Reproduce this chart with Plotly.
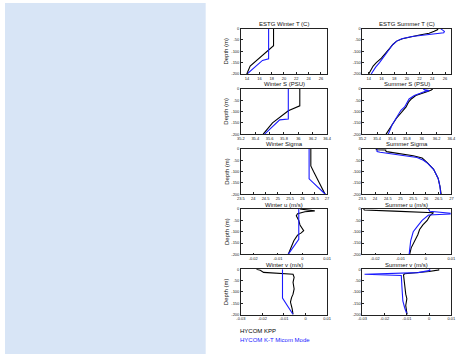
import plotly.graph_objects as go

# ---------------- data ----------------
# Row 1: temperature (C)
wT_depth_kpp = [0, -75, -165, -200]
wT_kpp = [18.3, 18.3, 14.5, 13.95]
wT_depth_mic = [0, -133, -140, -200]
wT_mic = [17.5, 17.5, 16.5, 14.0]

sT_depth_kpp = [0, -5, -12, -20, -28, -35, -45, -55, -70, -90, -110, -130, -150, -165, -180, -200]
sT_kpp = [24.9, 24.8, 24.3, 23.5, 22.0, 20.8, 19.3, 18.4, 17.8, 17.2, 16.6, 16.0, 15.2, 14.7, 14.4, 14.0]
sT_depth_mic = [0, -5, -12, -18, -22, -28, -35, -45, -55, -70, -90, -110, -130, -150, -170, -200]
sT_mic = [25.3, 25.6, 25.9, 25.8, 24.5, 22.3, 20.8, 19.2, 18.4, 17.8, 17.3, 16.8, 16.2, 15.7, 15.1, 14.4]

# Row 2: salinity (PSU)
wS_depth_kpp = [0, -75, -97, -150, -200]
wS_kpp = [36.02, 36.02, 35.86, 35.64, 35.51]
wS_depth_mic = [0, -133, -137, -200]
wS_mic = [35.86, 35.86, 35.74, 35.53]

sS_depth_kpp = [0, -5, -12, -20, -30, -45, -60, -80, -95, -110, -130, -160, -200]
sS_kpp = [36.15, 36.13, 36.08, 36.0, 35.92, 35.86, 35.82, 35.79, 35.75, 35.70, 35.66, 35.60, 35.52]
sS_depth_mic = [0, -5, -8, -12, -20, -30, -45, -60, -80, -95, -110, -130, -160, -200]
sS_mic = [36.02, 36.04, 36.10, 36.04, 35.98, 35.90, 35.83, 35.80, 35.77, 35.72, 35.69, 35.65, 35.60, 35.55]

# Row 3: sigma
wSig_depth_kpp = [0, -75, -100, -150, -200]
wSig_kpp = [26.34, 26.34, 26.45, 26.70, 26.92]
wSig_depth_mic = [0, -132, -200]
wSig_mic = [26.27, 26.27, 26.93]

sSig_depth_kpp = [0, -3, -5, -8, -12, -20, -30, -40, -60, -90, -130, -165, -200]
sSig_kpp = [24.05, 24.05, 24.42, 24.42, 24.45, 24.9, 25.5, 25.85, 26.05, 26.3, 26.48, 26.55, 26.6]
sSig_depth_mic = [0, -12, -15, -25, -38, -50, -65, -90, -130, -165, -200]
sSig_mic = [24.08, 24.08, 24.2, 24.9, 25.65, 25.9, 26.08, 26.3, 26.48, 26.55, 26.58]

# Row 4: u (m/s)
wU_depth_kpp = [0, -4, -8, -12, -20, -30, -50, -70, -85, -95, -105, -115, -140, -170, -200]
wU_kpp = [-0.001, 0.002, 0.005, 0.001, -0.002, -0.0025, -0.0015, -0.001, 0.0, 0.0005, -0.0005, -0.002, -0.0035, -0.0048, -0.0058]
wU_depth_mic = [0, -133, -200]
wU_mic = [-0.0015, -0.0015, -0.0058]

sU_depth_kpp = [0, -4, -9, -16, -30, -50, -70, -90, -113, -142, -171, -200]
sU_kpp = [-0.0245, -0.0242, -0.0125, 0.003, 0.0015, 0.0005, -0.0012, -0.0025, -0.0032, -0.0045, -0.0058, -0.0064]
sU_depth_mic = [0, -10, -18, -22, -26, -50, -75, -100, -140, -200]
sU_mic = [0.001, 0.0015, 0.0095, 0.0095, 0.001, -0.0015, -0.0033, -0.005, -0.006, -0.0066]

# Row 5: v (m/s)
wV_depth_kpp = [0, -5, -14, -19, -22, -36, -58, -87, -110, -125, -145, -175, -200]
wV_kpp = [-0.0228, -0.021, -0.0195, -0.0112, -0.0058, -0.0053, -0.0058, -0.0053, -0.0058, -0.0065, -0.0070, -0.0062, -0.0058]
wV_depth_mic = [0, -127, -200]
wV_mic = [-0.0107, -0.0107, -0.0058]

sV_depth_kpp = [0, -3, -10, -20, -25, -50, -80, -110, -130, -160, -200]
sV_kpp = [0.004, 0.0045, 0.0, -0.011, -0.0115, -0.0113, -0.0110, -0.0105, -0.0100, -0.0105, -0.0099]
sV_depth_mic = [0, -5, -15, -19, -22, -28, -50, -80, -110, -140, -170, -200]
sV_mic = [0.0, 0.0005, -0.005, -0.029, -0.029, -0.0125, -0.0125, -0.0122, -0.012, -0.0118, -0.011, -0.0099]

# titles
titles_left = ["ESTG Winter T (C)", "Winter S (PSU)", "Winter Sigma", "Winter u (m/s)", "Winter v (m/s)"]
titles_right = ["ESTG Summer T (C)", "Summer S (PSU)", "Summer Sigma", "Summer u (m/s)", "Summer v (m/s)"]

# ticks
depth_ticks = [0, -50, -100, -150, -200]
depth_ticktext = ["0", "-50", "-100", "-150", "-200"]
T_ticks = [14, 16, 18, 20, 22, 24, 26]
T_ticktext = ["14", "16", "18", "20", "22", "24", "26"]
S_ticks = [35.2, 35.4, 35.6, 35.8, 36.0, 36.2, 36.4]
S_ticktext = ["35.2", "35.4", "35.6", "35.8", "36", "36.2", "36.4"]
Sig_ticks = [23.5, 24, 24.5, 25, 25.5, 26, 26.5, 27]
Sig_ticktext = ["23.5", "24", "24.5", "25", "25.5", "26", "26.5", "27"]
U_ticks = [-0.02, -0.01, 0, 0.01]
U_ticktext = ["-0.02", "-0.01", "0", "0.01"]
V_ticks = [-0.03, -0.02, -0.01, 0, 0.01]
V_ticktext = ["-0.03", "-0.02", "-0.01", "0", "0.01"]

legend_labels = ["HYCOM KPP", "HYCOM K-T Micom Mode"]

# ---------------- layout ----------------
W, H = 475, 356
KPP_COLOR = "#000000"
MIC_COLOR = "#1a1aff"

rows = [
    (wT_depth_kpp, wT_kpp, wT_depth_mic, wT_mic, sT_depth_kpp, sT_kpp, sT_depth_mic, sT_mic, [13, 27], T_ticks, T_ticktext),
    (wS_depth_kpp, wS_kpp, wS_depth_mic, wS_mic, sS_depth_kpp, sS_kpp, sS_depth_mic, sS_mic, [35.2, 36.4], S_ticks, S_ticktext),
    (wSig_depth_kpp, wSig_kpp, wSig_depth_mic, wSig_mic, sSig_depth_kpp, sSig_kpp, sSig_depth_mic, sSig_mic, [23.5, 27], Sig_ticks, Sig_ticktext),
    (wU_depth_kpp, wU_kpp, wU_depth_mic, wU_mic, sU_depth_kpp, sU_kpp, sU_depth_mic, sU_mic, [-0.025, 0.01], U_ticks, U_ticktext),
    (wV_depth_kpp, wV_kpp, wV_depth_mic, wV_mic, sV_depth_kpp, sV_kpp, sV_depth_mic, sV_mic, [-0.03, 0.01], V_ticks, V_ticktext),
]

col_x = [(241, 329), (365, 456)]
row_top = [26, 87, 148, 209, 270]
box_h = 46

fig = go.Figure()
layout = dict(
    width=W, height=H,
    margin=dict(l=0, r=0, t=0, b=0),
    paper_bgcolor="white", plot_bgcolor="white",
    showlegend=False,
    font=dict(family="Liberation Sans, Arial, sans-serif", color="black"),
)
annotations = []
shapes = [dict(type="rect", xref="paper", yref="paper", x0=0, x1=205 / W, y0=0, y1=1,
               fillcolor="#d8e5f6", line=dict(width=0), layer="below")]

axis_common = dict(
    showgrid=False, zeroline=False, showline=True, mirror=True,
    linecolor="#222", linewidth=0.6, ticks="inside", ticklen=2, tickwidth=0.5,
    tickcolor="#222", tickfont=dict(size=4, color="#222"),
)

idx = 0
for r, rowdata in enumerate(rows):
    (wd_k, wv_k, wd_m, wv_m, sd_k, sv_k, sd_m, sv_m, xr, xt, xtt) = rowdata
    top = row_top[r]
    yd = [1 - (top + box_h) / H, 1 - top / H]
    for c in range(2):
        idx += 1
        xa = "x" if idx == 1 else f"x{idx}"
        ya = "y" if idx == 1 else f"y{idx}"
        xd = [col_x[c][0] / W, col_x[c][1] / W]
        if c == 0:
            dk, vk, dm, vm = wd_k, wv_k, wd_m, wv_m
        else:
            dk, vk, dm, vm = sd_k, sv_k, sd_m, sv_m
        fig.add_trace(go.Scatter(x=vk, y=dk, mode="lines", line=dict(color=KPP_COLOR, width=1.1),
                                 xaxis=xa, yaxis=ya, name=legend_labels[0]))
        fig.add_trace(go.Scatter(x=vm, y=dm, mode="lines", line=dict(color=MIC_COLOR, width=1.1),
                                 xaxis=xa, yaxis=ya, name=legend_labels[1]))
        xkey = "xaxis" if idx == 1 else f"xaxis{idx}"
        ykey = "yaxis" if idx == 1 else f"yaxis{idx}"
        layout[xkey] = dict(axis_common, domain=xd, range=xr, tickvals=xt, ticktext=xtt,
                            anchor=ya)
        layout[ykey] = dict(axis_common, domain=yd, range=[-200, 0], tickvals=depth_ticks,
                            ticktext=depth_ticktext, anchor=xa)
        title = titles_left[r] if c == 0 else titles_right[r]
        annotations.append(dict(text=title, xref="paper", yref="paper",
                                x=(xd[0] + xd[1]) / 2, y=yd[1] + 0.5 / H,
                                xanchor="center", yanchor="bottom", showarrow=False,
                                borderpad=0,
                                font=dict(size=6, color="#111")))
        if c == 0:
            annotations.append(dict(text="Depth (m)", xref="paper", yref="paper",
                                    x=226 / W, y=(yd[0] + yd[1]) / 2, textangle=-90,
                                    xanchor="center", yanchor="middle", showarrow=False,
                                    borderpad=0,
                                    font=dict(size=6, color="#111")))

annotations.append(dict(text=legend_labels[0], xref="paper", yref="paper",
                        x=239 / W, y=1 - 333 / H, xanchor="left", yanchor="middle",
                        showarrow=False, borderpad=0, font=dict(size=6, color=KPP_COLOR)))
annotations.append(dict(text=legend_labels[1], xref="paper", yref="paper",
                        x=239 / W, y=1 - 342 / H, xanchor="left", yanchor="middle",
                        showarrow=False, borderpad=0, font=dict(size=6, color=MIC_COLOR)))

layout["annotations"] = annotations
layout["shapes"] = shapes
fig.update_layout(**layout)
fig.write_html("out.html",
               config={"displayModeBar": False},
               post_script="document.body.style.margin='0';document.body.style.padding='0';")
